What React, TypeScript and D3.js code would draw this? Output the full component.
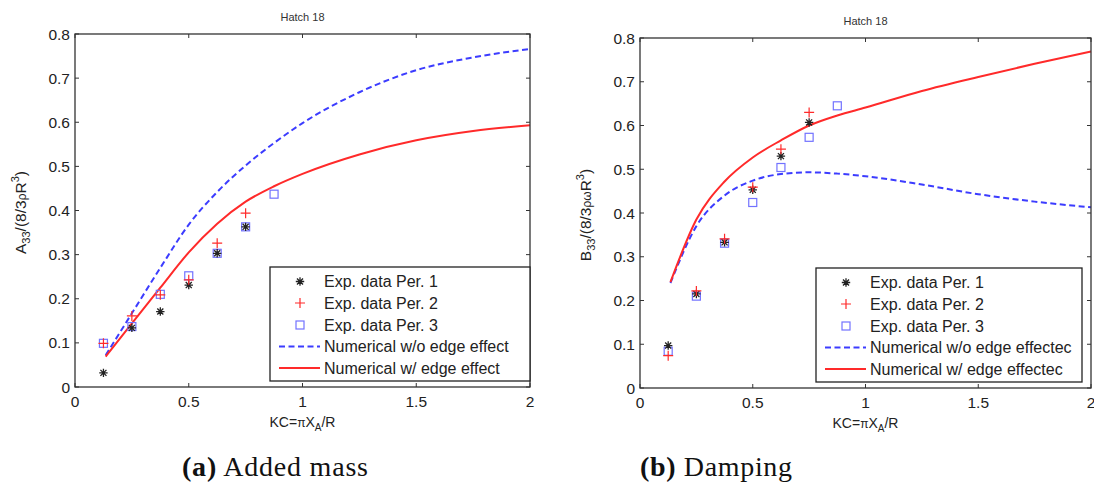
import React from 'react';
import * as d3 from 'd3';

// experimental KC values
const kcExp = [0.125, 0.25, 0.375, 0.5, 0.625, 0.75];
const kcExp3 = [0.125, 0.25, 0.375, 0.5, 0.625, 0.75, 0.875];
// KC values of the numerical curves
const kcNum = [0.135, 0.25, 0.375, 0.5, 0.625, 0.75, 0.875, 1, 1.25, 1.5, 1.75, 2];

// (a) added mass
const addedPer1 = [0.032, 0.134, 0.171, 0.231, 0.303, 0.363];
const addedPer2 = [0.099, 0.161, 0.209, 0.243, 0.326, 0.394];
const addedPer3 = [0.099, 0.137, 0.21, 0.252, 0.303, 0.363, 0.437];
const addedNoEdge = [0.072, 0.167, 0.27, 0.368, 0.442, 0.502, 0.553, 0.598, 0.668, 0.718, 0.747, 0.766];
const addedEdge = [0.069, 0.144, 0.225, 0.305, 0.37, 0.42, 0.455, 0.483, 0.527, 0.559, 0.58, 0.593];

// (b) damping
const dampPer1 = [0.097, 0.215, 0.333, 0.453, 0.53, 0.607];
const dampPer2 = [0.074, 0.222, 0.341, 0.459, 0.546, 0.63];
const dampPer3 = [0.084, 0.21, 0.331, 0.424, 0.504, 0.573, 0.645];
const dampNoEdge = [0.24, 0.37, 0.44, 0.474, 0.489, 0.493, 0.49, 0.484, 0.465, 0.443, 0.426, 0.413];
const dampEdge = [0.242, 0.385, 0.472, 0.527, 0.566, 0.6, 0.623, 0.641, 0.679, 0.711, 0.741, 0.769];

const xTicks = [0, 0.5, 1, 1.5, 2];
const yTicks = [0, 0.1, 0.2, 0.3, 0.4, 0.5, 0.6, 0.7, 0.8];
const xTickLabels = ['0', '0.5', '1', '1.5', '2'];
const yTickLabels = ['0', '0.1', '0.2', '0.3', '0.4', '0.5', '0.6', '0.7', '0.8'];

const addedLegend = ['Exp. data Per. 1', 'Exp. data Per. 2', 'Exp. data Per. 3', 'Numerical w/o edge effect', 'Numerical w/ edge effect'];
const dampLegend = ['Exp. data Per. 1', 'Exp. data Per. 2', 'Exp. data Per. 3', 'Numerical w/o edge effectec', 'Numerical w/ edge effectec'];

const SANS = '"Liberation Sans", Arial, sans-serif';
const SERIF = '"Liberation Serif", "Times New Roman", serif';
const BLACK = '#222';
const RED = '#ff2a2a';
const BLUE = '#3c3cff';
const SQ = '#7272ff';

function asterisk(x: number, y: number, r = 4.2) {
  const d = r * 0.72;
  return `M${x - r},${y}h${2 * r}M${x},${y - r}v${2 * r}M${x - d},${y - d}l${2 * d},${2 * d}M${x - d},${y + d}l${2 * d},${-2 * d}`;
}
function plus(x: number, y: number, r = 5) {
  return `M${x - r},${y}h${2 * r}M${x},${y - r}v${2 * r}`;
}

function Marker({ kind, x, y }: { kind: string; x: number; y: number }) {
  if (kind === 'star') return <path d={asterisk(x, y)} stroke={BLACK} strokeWidth={1.3} />;
  if (kind === 'plus') return <path d={plus(x, y)} stroke={RED} strokeWidth={1.2} />;
  return <rect x={x - 4} y={y - 4} width={8} height={8} fill="none" stroke={SQ} strokeWidth={1.2} />;
}

type PanelProps = {
  x0: number; x1: number; y0: number; y1: number;
  per1: number[]; per2: number[]; per3: number[];
  noEdge: number[]; edge: number[];
  legend: string[]; legendX: number; legendW: number;
  yLabel: React.ReactNode;
};

function Panel(p: PanelProps) {
  const x = d3.scaleLinear().domain([0, 2]).range([p.x0, p.x1]);
  const y = d3.scaleLinear().domain([0, 0.8]).range([p.y1, p.y0]);
  const line = d3.line<number>().x((_, i) => x(kcNum[i])).y((v) => y(v)).curve(d3.curveMonotoneX);
  const cx = (p.x0 + p.x1) / 2;
  const ly = p.y1 - 120;
  const rows = [14.5, 36, 58, 79.5, 101];
  const tl = 4;
  return (
    <g>
      <text x={cx} y={p.y0 - 13} textAnchor="middle" fontSize={11} fill="#333" fontFamily={SANS}>Hatch 18</text>
      {/* curves */}
      <path d={line(p.noEdge) || ''} fill="none" stroke={BLUE} strokeWidth={2} strokeDasharray="6,3.5" />
      <path d={line(p.edge) || ''} fill="none" stroke={RED} strokeWidth={2} />
      {/* experiments */}
      {p.per3.map((v, i) => <Marker key={'s' + i} kind="square" x={x(kcExp3[i])} y={y(v)} />)}
      {p.per1.map((v, i) => <Marker key={'a' + i} kind="star" x={x(kcExp[i])} y={y(v)} />)}
      {p.per2.map((v, i) => <Marker key={'p' + i} kind="plus" x={x(kcExp[i])} y={y(v)} />)}
      {/* frame and ticks */}
      <rect x={p.x0} y={p.y0} width={p.x1 - p.x0} height={p.y1 - p.y0} fill="none" stroke="#333" strokeWidth={1.3} />
      {xTicks.map((t, i) => (
        <g key={'xt' + i}>
          <line x1={x(t)} x2={x(t)} y1={p.y1} y2={p.y1 - tl} stroke="#333" />
          <line x1={x(t)} x2={x(t)} y1={p.y0} y2={p.y0 + tl} stroke="#333" />
          <text x={x(t)} y={p.y1 + 20} textAnchor="middle" fontSize={15.5} fill="#222" fontFamily={SANS}>{xTickLabels[i]}</text>
        </g>
      ))}
      {yTicks.map((t, i) => (
        <g key={'yt' + i}>
          <line x1={p.x0} x2={p.x0 + tl} y1={y(t)} y2={y(t)} stroke="#333" />
          <line x1={p.x1} x2={p.x1 - tl} y1={y(t)} y2={y(t)} stroke="#333" />
          <text x={p.x0 - 5} y={y(t) + 5.5} textAnchor="end" fontSize={15.5} fill="#222" fontFamily={SANS}>{yTickLabels[i]}</text>
        </g>
      ))}
      {/* axis labels */}
      <text x={cx} y={p.y1 + 40} textAnchor="middle" fontSize={14} fill="#222" fontFamily={SANS}>
        KC=<tspan fontSize={12}>π</tspan>X<tspan fontSize={10} dy={4}>A</tspan><tspan dy={-4}>/R</tspan>
      </text>
      <text transform={`translate(${p.x0 - 49},${(p.y0 + p.y1) / 2 + 2}) rotate(-90)`} textAnchor="middle" fontSize={15.5} fill="#222" fontFamily={SANS}>
        {p.yLabel}
      </text>
      {/* legend */}
      <rect x={p.legendX} y={ly} width={p.legendW} height={114} fill="#fff" stroke="#222" strokeWidth={1.3} />
      {p.legend.map((lab, i) => {
        const ry = ly + rows[i];
        const mx = p.legendX + 30;
        return (
          <g key={'lg' + i}>
            {i === 0 && <Marker kind="star" x={mx} y={ry} />}
            {i === 1 && <Marker kind="plus" x={mx} y={ry} />}
            {i === 2 && <Marker kind="square" x={mx} y={ry} />}
            {i === 3 && <line x1={p.legendX + 9} x2={p.legendX + 50} y1={ry} y2={ry} stroke={BLUE} strokeWidth={2} strokeDasharray="6,3.5" />}
            {i === 4 && <line x1={p.legendX + 9} x2={p.legendX + 50} y1={ry} y2={ry} stroke={RED} strokeWidth={2} />}
            <text x={p.legendX + 54} y={ry + 5.5} fontSize={16} fill="#222" fontFamily={SANS}>{lab}</text>
          </g>
        );
      })}
    </g>
  );
}

export default function App() {
  return (
    <svg width={1094} height={486} style={{ position: 'absolute', left: 0, top: 0, background: '#fff' }}>
      <Panel x0={75} x1={530} y0={34} y1={387}
        per1={addedPer1} per2={addedPer2} per3={addedPer3}
        noEdge={addedNoEdge} edge={addedEdge}
        legend={addedLegend} legendX={270} legendW={260}
        yLabel={<>A<tspan fontSize={11} dy={4}>33</tspan><tspan dy={-4}>/(8/3</tspan><tspan fontSize={12}>ρ</tspan>R<tspan fontSize={11} dy={-7}>3</tspan><tspan dy={7}>)</tspan></>}
      />
      <Panel x0={640} x1={1091} y0={38} y1={388}
        per1={dampPer1} per2={dampPer2} per3={dampPer3}
        noEdge={dampNoEdge} edge={dampEdge}
        legend={dampLegend} legendX={816} legendW={266}
        yLabel={<>B<tspan fontSize={11} dy={4}>33</tspan><tspan dy={-4}>/(8/3</tspan><tspan fontSize={12}>ρω</tspan>R<tspan fontSize={11} dy={-7}>3</tspan><tspan dy={7}>)</tspan></>}
      />
      <text x={182} y={476} fontSize={28} fontFamily={SERIF} fill="#111" textLength={186} lengthAdjust="spacing">
        <tspan fontWeight="bold">(a)</tspan> Added mass
      </text>
      <text x={640} y={476} fontSize={28} fontFamily={SERIF} fill="#111" textLength={152} lengthAdjust="spacing">
        <tspan fontWeight="bold">(b)</tspan> Damping
      </text>
    </svg>
  );
}
